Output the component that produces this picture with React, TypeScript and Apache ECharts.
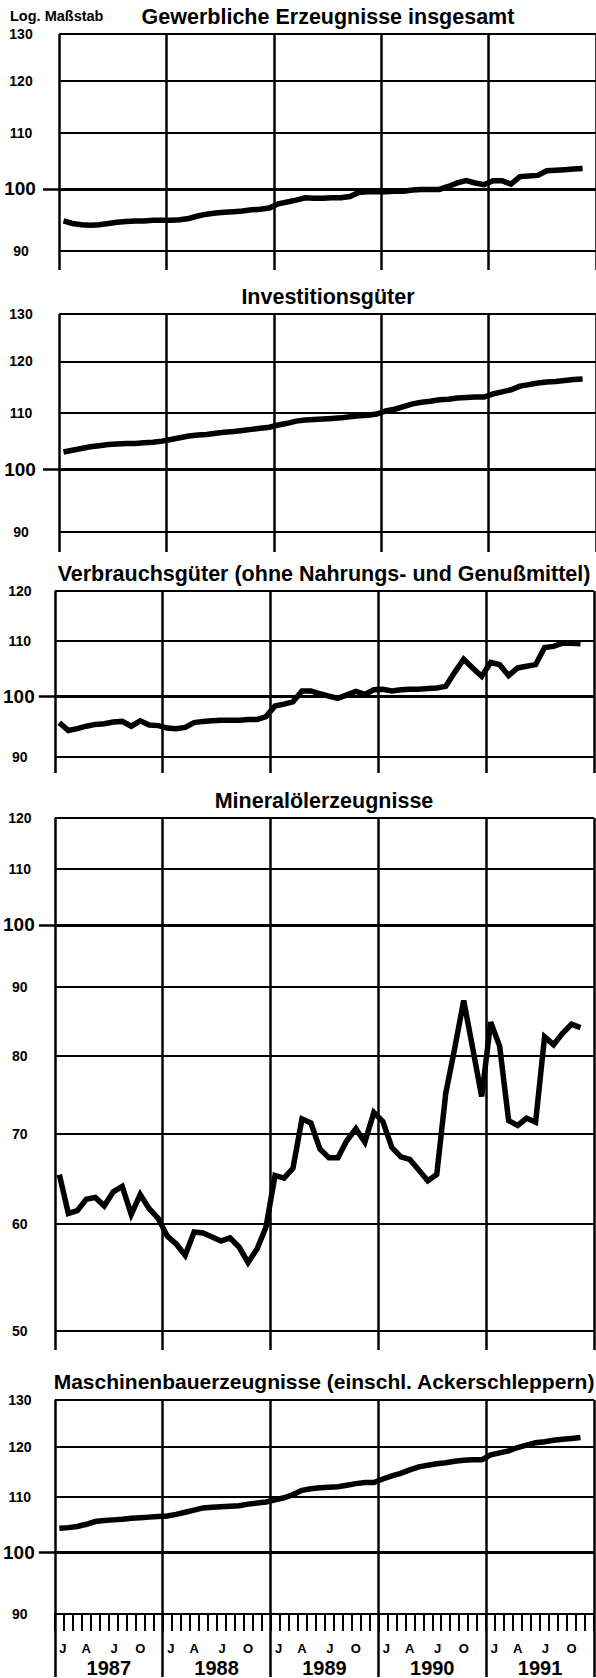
import React, { useEffect, useRef } from 'react';
import * as echarts from 'echarts';

// ---------- data ----------
const years = ['1987', '1988', '1989', '1990', '1991'];
const monthLetters = ['J', 'A', 'J', 'O'];
const letterMonthIndex = [0, 3, 6, 9];

const titleGewerbliche = 'Gewerbliche Erzeugnisse insgesamt';
const titleInvestition = 'Investitionsgüter';
const titleVerbrauch = 'Verbrauchsgüter (ohne Nahrungs- und Genußmittel)';
const titleMineral = 'Mineralölerzeugnisse';
const titleMaschinen = 'Maschinenbauerzeugnisse (einschl. Ackerschleppern)';
const scaleNote = 'Log. Maßstab';

// monthly index values, Jan 1987 .. Nov 1991
const gewerbliche = [
  94.7, 94.3, 94.1, 94.0, 94.1, 94.3, 94.5, 94.6, 94.7, 94.7, 94.8, 94.8,
  94.8, 94.9, 95.1, 95.5, 95.8, 96.0, 96.1, 96.2, 96.3, 96.5, 96.6, 96.8,
  97.5, 97.8, 98.1, 98.5, 98.4, 98.4, 98.5, 98.5, 98.7, 99.4, 99.5, 99.5,
  99.5, 99.6, 99.6, 99.8, 99.9, 99.9, 99.9, 100.4, 101.0, 101.4, 101.0, 100.7,
  101.4, 101.4, 100.8, 102.1, 102.2, 102.3, 103.1, 103.2, 103.3, 103.4, 103.5,
];
const investition = [
  103.0, 103.3, 103.6, 103.9, 104.1, 104.3, 104.4, 104.5, 104.5, 104.6, 104.7, 104.9,
  105.2, 105.5, 105.8, 106.0, 106.1, 106.3, 106.5, 106.6, 106.8, 107.0, 107.2, 107.4,
  107.8, 108.1, 108.5, 108.7, 108.8, 108.9, 109.0, 109.1, 109.3, 109.5, 109.6, 109.8,
  110.4, 110.7, 111.2, 111.7, 112.0, 112.2, 112.5, 112.6, 112.8, 112.9, 113.0, 113.0,
  113.6, 114.0, 114.4, 115.1, 115.4, 115.7, 115.9, 116.0, 116.2, 116.4, 116.5,
];
const verbrauch = [
  95.5, 94.2, 94.5, 94.9, 95.2, 95.3, 95.6, 95.7, 94.9, 95.8, 95.1, 95.0,
  94.6, 94.5, 94.7, 95.5, 95.7, 95.8, 95.9, 95.9, 95.9, 96.0, 96.0, 96.5,
  98.3, 98.6, 99.0, 100.9, 100.9, 100.4, 100.0, 99.6, 100.2, 100.8, 100.3, 101.1,
  101.2, 100.9, 101.1, 101.2, 101.2, 101.3, 101.4, 101.7, 104.2, 106.6, 105.0, 103.5,
  106.0, 105.6, 103.6, 105.0, 105.3, 105.6, 108.8, 109.0, 109.6, 109.6, 109.5,
];
const mineral = [
  65.3, 61.1, 61.4, 62.6, 62.8, 61.9, 63.4, 64.0, 61.0, 63.1, 61.6, 60.6,
  58.8, 58.0, 56.9, 59.2, 59.1, 58.7, 58.3, 58.6, 57.7, 56.2, 57.5, 59.7,
  65.2, 64.9, 66.0, 71.8, 71.3, 68.2, 67.2, 67.2, 69.2, 70.6, 69.0, 72.6,
  71.5, 68.4, 67.3, 67.0, 65.8, 64.6, 65.3, 75.0, 81.0, 87.9, 81.0, 74.6,
  84.7, 81.3, 71.6, 71.0, 71.9, 71.4, 82.6, 81.5, 83.1, 84.4, 83.9,
];
const maschinen = [
  104.3, 104.4, 104.6, 105.0, 105.5, 105.7, 105.8, 105.9, 106.1, 106.2, 106.3, 106.4,
  106.5, 106.8, 107.2, 107.6, 108.0, 108.1, 108.2, 108.3, 108.4, 108.7, 108.9, 109.1,
  109.5, 109.9, 110.5, 111.3, 111.6, 111.8, 111.9, 112.0, 112.3, 112.6, 112.8, 112.8,
  113.5, 114.1, 114.6, 115.3, 115.9, 116.2, 116.5, 116.7, 117.0, 117.2, 117.3, 117.3,
  118.3, 118.7, 119.1, 119.8, 120.3, 120.8, 121.0, 121.3, 121.5, 121.7, 121.9,
];

// tick labels (100 is drawn separately, emphasised)
const ticks130 = [90, 110, 120, 130];
const ticks120 = [90, 110, 120];
const ticksMineral = [50, 60, 70, 80, 90, 110, 120];
const baseLevel = [100];

// axis ranges
const ranges = [
  { min: 87.15, max: 130 },
  { min: 87.0, max: 130 },
  { min: 87.5, max: 120 },
  { min: 48.4, max: 120 },
  { min: 90, max: 130 },
];

const panels = [
  { title: titleGewerbliche, values: gewerbliche, ticks: ticks130 },
  { title: titleInvestition, values: investition, ticks: ticks130 },
  { title: titleVerbrauch, values: verbrauch, ticks: ticks120 },
  { title: titleMineral, values: mineral, ticks: ticksMineral },
  { title: titleMaschinen, values: maschinen, ticks: ticks130 },
];

// ---------- layout (pixels) ----------
const layout = [
  { left: 59, top: 34, width: 538, height: 236, titleY: 17, titleSize: 21.5, labelX: 21 },
  { left: 59, top: 314, width: 538, height: 238, titleY: 297, titleSize: 21.5, labelX: 21 },
  { left: 54, top: 591, width: 540, height: 182, titleY: 574, titleSize: 21.5, labelX: 19 },
  { left: 54, top: 818, width: 540, height: 532, titleY: 801, titleSize: 21.5, labelX: 19 },
  { left: 54, top: 1400, width: 540, height: 215, titleY: 1381, titleSize: 21, labelX: 19 },
];

const FONT = '"Liberation Sans", Arial, Helvetica, sans-serif';
const INK = '#000';

export default function App() {
  const ref = useRef<HTMLDivElement>(null);

  useEffect(() => {
    const chart = echarts.init(ref.current as HTMLDivElement, null, { renderer: 'svg' });
    const grids: any[] = [];
    const xAxes: any[] = [];
    const yAxes: any[] = [];
    const series: any[] = [];
    const graphics: any[] = [];

    panels.forEach((p, i) => {
      const L = layout[i];
      const R = ranges[i];
      grids.push({ left: L.left, top: L.top, width: L.width, height: L.height, containLabel: false });

      xAxes.push({
        type: 'value',
        gridIndex: i,
        position: 'bottom',
        min: 0,
        max: years.length * 12,
        interval: 12,
        axisLine: { show: false },
        axisTick: { show: false },
        axisLabel: { show: false },
        splitLine: { show: true, lineStyle: { color: INK, width: 2.5 } },
      });

      yAxes.push({
        type: 'log',
        logBase: 10,
        gridIndex: i,
        position: 'left',
        min: R.min,
        max: R.max,
        axisLine: { show: false },
        axisTick: { show: false, customValues: p.ticks },
        axisLabel: {
          customValues: p.ticks,
          formatter: (v: number) => String(Math.round(v)),
          color: INK,
          fontFamily: FONT,
          fontWeight: 'bold',
          fontSize: 14,
          align: 'center',
          verticalAlign: 'middle',
          padding: [5, 0, 0, 0],
          margin: L.left - L.labelX,
        },
        splitLine: { show: true, lineStyle: { color: INK, width: 2 } },
      });

      yAxes.push({
        type: 'log',
        logBase: 10,
        gridIndex: i,
        position: 'left',
        min: R.min,
        max: R.max,
        axisLine: { show: false },
        axisTick: { show: true, customValues: baseLevel, length: 16, lineStyle: { color: INK, width: 2.5 } },
        axisLabel: {
          customValues: baseLevel,
          formatter: (v: number) => String(Math.round(v)),
          color: INK,
          fontFamily: FONT,
          fontWeight: 'bold',
          fontSize: 19,
          align: 'center',
          verticalAlign: 'middle',
          margin: L.left - L.labelX + 1,
        },
        splitLine: { show: true, lineStyle: { color: INK, width: 3 } },
      });

      series.push({
        type: 'line',
        name: p.title,
        xAxisIndex: i,
        yAxisIndex: i * 2,
        data: p.values.map((v, k) => [k + 0.5, v]),
        symbol: 'none',
        lineStyle: { color: INK, width: 5.5, join: 'miter' },
        z: 5,
      });

      graphics.push({
        type: 'text',
        x: L.left + L.width / 2,
        y: L.titleY,
        style: {
          text: p.title,
          fill: INK,
          fontFamily: FONT,
          fontWeight: 'bold',
          fontSize: L.titleSize,
          align: 'center',
          verticalAlign: 'middle',
          textAlign: 'center',
          textVerticalAlign: 'middle',
        },
      });
    });

    // bottom panel: year boundaries reaching the page foot + year labels
    const last = panels.length - 1;
    xAxes[last] = {
      ...xAxes[last],
      axisTick: { show: true, length: 63, lineStyle: { color: INK, width: 2.5 } },
      axisLabel: {
        show: true,
        customValues: years.map((_, y) => y * 12 + 6),
        formatter: (v: number) => years[Math.floor(v / 12)],
        color: INK,
        fontFamily: FONT,
        fontWeight: 'bold',
        fontSize: 20,
        margin: 44,
      },
    };
    // month ticks + month letters
    const letterPos = [0.9, 3.5, 6.6, 9.5];
    const monthValues: number[] = [];
    years.forEach((_, y) => letterMonthIndex.forEach((m, j) => monthValues.push(y * 12 + letterPos[j])));
    xAxes.push({
      type: 'value',
      gridIndex: last,
      position: 'bottom',
      min: 0,
      max: years.length * 12,
      interval: 1,
      axisLine: { show: true, lineStyle: { color: INK, width: 2 } },
      axisTick: { show: true, length: 17, lineStyle: { color: INK, width: 2 } },
      axisLabel: {
        customValues: monthValues,
        formatter: (v: number) => {
          const m = Math.floor(v) % 12;
          const j = letterMonthIndex.indexOf(m);
          return j >= 0 ? monthLetters[j] : '';
        },
        color: INK,
        fontFamily: FONT,
        fontWeight: 'bold',
        fontSize: 13,
        margin: 28,
      },
      splitLine: { show: false },
    });

    graphics.push({
      type: 'text',
      x: 10,
      y: 16,
      style: {
        text: scaleNote,
        fill: INK,
        fontFamily: FONT,
        fontWeight: 'bold',
        fontSize: 14.5,
        align: 'left',
        verticalAlign: 'middle',
        textAlign: 'left',
        textVerticalAlign: 'middle',
      },
    });

    chart.setOption({
      animation: false,
      backgroundColor: '#fff',
      grid: grids,
      xAxis: xAxes,
      yAxis: yAxes,
      series,
      graphic: graphics,
    });

    return () => chart.dispose();
  }, []);

  return (
    <div
      ref={ref}
      style={{ position: 'absolute', left: 0, top: 0, width: 596, height: 1678, background: '#fff' }}
    />
  );
}
